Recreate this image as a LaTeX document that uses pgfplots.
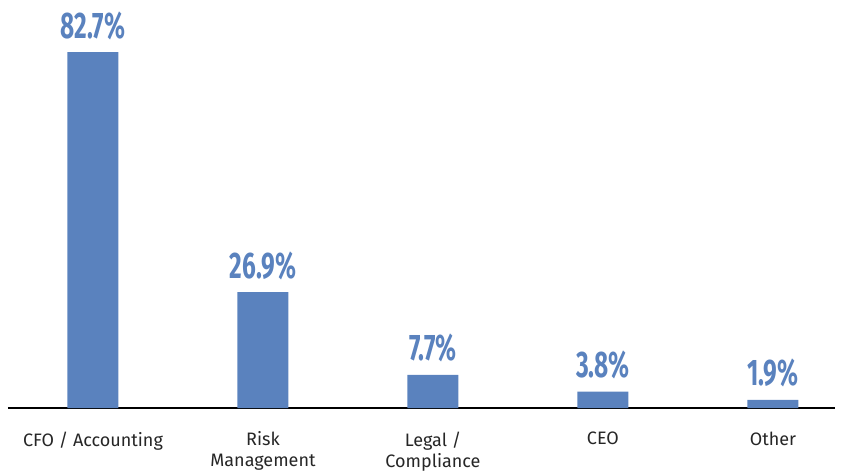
\documentclass[border=0pt]{standalone}
\usepackage{fontspec}
\setmainfont{Fira Sans}
\newfontfamily\valfont[FakeStretch=0.66]{Fira Sans}
\usepackage{pgfplots}
\pgfplotsset{compat=1.18}
\definecolor{barblue}{HTML}{5A82BE}
\begin{document}
\begin{tikzpicture}
\begin{axis}[
  scale only axis,
  width=827pt, height=408pt,
  xmin=-0.5, xmax=4.365,
  ymin=0, ymax=94.8,
  axis x line=bottom,
  axis y line=none,
  axis line style={line width=1.2pt,-},
  x axis line style={-},
  xtick=data,
  xticklabels={CFO / Accounting, Risk\\Management, Legal /\\Compliance, CEO, Other},
  xticklabel style={font=\fontsize{18}{21}\selectfont, align=center, anchor=north, yshift=-20pt, color=black!85},
  major tick length=0pt,
  tick style={draw=none},
  ytick=\empty,
  bar width=51pt,
  clip=false,
  nodes near coords={\pgfmathprintnumber[fixed,precision=1,fixed zerofill,assume math mode=true]{\pgfplotspointmeta}\%},
  nodes near coords style={font=\valfont\bfseries\fontsize{37}{37}\selectfont, color=barblue, yshift=9pt},
]
\addplot[ybar, fill=barblue, draw=none] coordinates {(0,82.7) (1,26.9) (2,7.7) (3,3.8) (4,1.9)};
\end{axis}
\path[use as bounding box] (-8pt,-67pt) rectangle (838pt,408pt);
\end{tikzpicture}
\end{document}
